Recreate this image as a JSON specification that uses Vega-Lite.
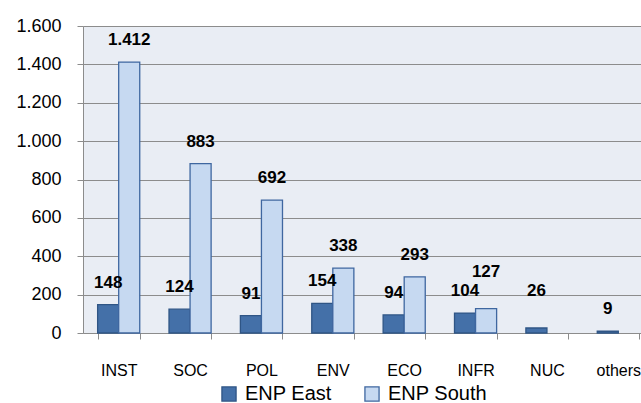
{
  "$schema": "https://vega.github.io/schema/vega-lite/v6.json",
  "autosize": "none",
  "padding": {"left": 83, "top": 26, "right": 10, "bottom": 70},
  "width": 571,
  "height": 307,
  "background": "white",
  "config": {
    "view": {"fill": "#E9EDF4", "stroke": null},
    "font": "Liberation Sans",
    "locale": {"number": {"decimal": ",", "thousands": ".", "grouping": [3], "currency": ["", "€"]}}
  },
  "data": {
    "values": [
      {"category": "INST", "series": "ENP East", "value": 148},
      {"category": "INST", "series": "ENP South", "value": 1412},
      {"category": "SOC", "series": "ENP East", "value": 124},
      {"category": "SOC", "series": "ENP South", "value": 883},
      {"category": "POL", "series": "ENP East", "value": 91},
      {"category": "POL", "series": "ENP South", "value": 692},
      {"category": "ENV", "series": "ENP East", "value": 154},
      {"category": "ENV", "series": "ENP South", "value": 338},
      {"category": "ECO", "series": "ENP East", "value": 94},
      {"category": "ECO", "series": "ENP South", "value": 293},
      {"category": "INFR", "series": "ENP East", "value": 104},
      {"category": "INFR", "series": "ENP South", "value": 127},
      {"category": "NUC", "series": "ENP East", "value": 26},
      {"category": "others", "series": "ENP East", "value": 9}
    ]
  },
  "encoding": {
    "x": {
      "field": "category", "type": "nominal", "sort": null,
      "scale": {"paddingInner": 0.41, "paddingOuter": 0.205},
      "axis": {
        "title": null, "labelAngle": 0, "tickBand": "extent",
        "domainColor": "#8C8C8C", "tickColor": "#8C8C8C", "tickSize": 6,
        "labelFontSize": 16, "labelColor": "#000000", "labelPadding": 23,
        "labelFont": "Liberation Sans"
      }
    },
    "xOffset": {"field": "series", "type": "nominal", "scale": {"domain": ["ENP East", "ENP South"]}},
    "y": {
      "field": "value", "type": "quantitative",
      "scale": {"domain": [0, 1600], "nice": false},
      "axis": {
        "title": null, "values": [0, 200, 400, 600, 800, 1000, 1200, 1400, 1600],
        "format": ",d", "domainColor": "#8C8C8C", "tickColor": "#8C8C8C", "tickSize": 6,
        "gridColor": "#8C8C8C", "labelFontSize": 18, "labelColor": "#000000",
        "labelPadding": 16, "labelFont": "Liberation Sans"
      }
    }
  },
  "layer": [
    {
      "mark": {"type": "bar", "strokeWidth": 1.3},
      "encoding": {
        "color": {
          "field": "series", "type": "nominal",
          "scale": {"domain": ["ENP East", "ENP South"], "range": ["#4470A8", "#C6D9F1"]},
          "legend": {
            "title": null, "orient": "none", "direction": "horizontal",
            "legendX": 136, "legendY": 358, "symbolType": "square", "symbolSize": 200,
            "symbolStrokeColor": "#3A629A", "symbolStrokeWidth": 1.3,
            "labelFontSize": 20, "labelColor": "#000000", "columnPadding": 30, "labelOffset": 6
          }
        },
        "stroke": {
          "field": "series", "type": "nominal",
          "scale": {"domain": ["ENP East", "ENP South"], "range": ["#2F5585", "#3F67A0"]},
          "legend": null
        }
      }
    },
    {
      "transform": [{"filter": "!((datum.category === 'INFR' && datum.series === 'ENP South') || datum.category === 'NUC')"}],
      "mark": {"type": "text", "fontWeight": "bold", "fontSize": 17, "dy": -17, "baseline": "alphabetic", "color": "#000000"},
      "encoding": {
        "text": {"field": "value", "type": "quantitative", "format": ",d"}
      }
    },
    {
      "transform": [{"filter": "(datum.category === 'INFR' && datum.series === 'ENP South') || datum.category === 'NUC'"}],
      "mark": {"type": "text", "fontWeight": "bold", "fontSize": 17, "dy": -32, "baseline": "alphabetic", "color": "#000000"},
      "encoding": {
        "text": {"field": "value", "type": "quantitative", "format": ",d"}
      }
    }
  ]
}
